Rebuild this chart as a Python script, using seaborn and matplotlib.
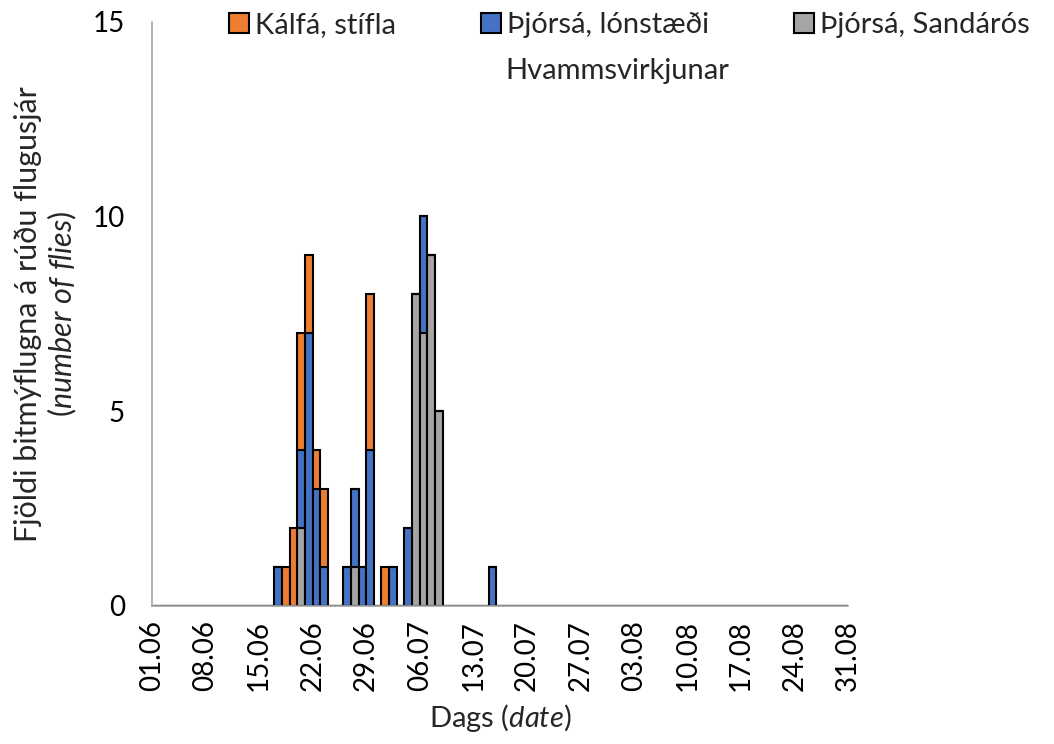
import pandas as pd
import numpy as np
import matplotlib
matplotlib.use("Agg")
import matplotlib.pyplot as plt
import seaborn as sns

# data (date -> number of flies)
kalfa_dates = ["18.06", "19.06", "20.06", "21.06", "22.06", "23.06", "29.06", "01.07"]
kalfa_counts = [1, 2, 3, 2, 1, 2, 4, 1]

lon_dates = ["17.06", "20.06", "21.06", "22.06", "23.06", "26.06", "27.06", "28.06",
             "29.06", "02.07", "04.07", "06.07", "15.07"]
lon_counts = [1, 2, 7, 3, 1, 1, 2, 1, 4, 1, 2, 3, 1]

sand_dates = ["20.06", "27.06", "05.07", "06.07", "07.07", "08.07"]
sand_counts = [2, 1, 8, 7, 9, 5]

site_names = ["Kálfá, stífla", "Þjórsá, lónstæði", "Þjórsá, Sandárós"]
site_colors = ["#ED7D31", "#4472C4", "#A5A5A5"]
tick_labels = ["01.06", "08.06", "15.06", "22.06", "29.06", "06.07", "13.07",
               "20.07", "27.07", "03.08", "10.08", "17.08", "24.08", "31.08"]

start = pd.Timestamp("2020-06-01")


def day_index(dates):
    d = pd.to_datetime([s + ".2020" for s in dates], format="%d.%m.%Y")
    return np.asarray((d - start).days)


frames = []
for name, dates, counts in zip(site_names,
                               [kalfa_dates, lon_dates, sand_dates],
                               [kalfa_counts, lon_counts, sand_counts]):
    frames.append(pd.DataFrame({"day": day_index(dates), "n": counts, "site": name}))
df = pd.concat(frames, ignore_index=True)

sns.set_style("white")
plt.rcParams["font.family"] = ["Lato", "DejaVu Sans"]
plt.rcParams["mathtext.fontset"] = "custom"
plt.rcParams["mathtext.rm"] = "Lato"
plt.rcParams["mathtext.it"] = "Lato:italic"

fig = plt.figure(figsize=(10.54, 7.44), dpi=100)
ax = fig.add_axes([0.1442, 0.1859, 0.6604, 0.7849])

sns.histplot(data=df, x="day", weights="n", hue="site", hue_order=site_names,
             palette=site_colors, multiple="stack", binwidth=1, binrange=(0, 91),
             alpha=1, edgecolor="black", linewidth=1.5, ax=ax)

ax.set_xlim(0, 91)
ax.set_ylim(0, 15)
ax.set_yticks([0, 5, 10, 15])
ax.set_xticks(day_index(tick_labels))
ax.set_xticklabels(tick_labels, rotation=90)

grey = "#A6A6A6"
for side in ["top", "right"]:
    ax.spines[side].set_visible(False)
for side in ["left", "bottom"]:
    ax.spines[side].set_color(grey)
    ax.spines[side].set_linewidth(1.2)
ax.tick_params(axis="both", direction="out", length=7.5, width=1.2, color=grey,
               labelsize=20, labelcolor="black")
ax.tick_params(axis="x", pad=3)
ax.tick_params(axis="y", pad=12)

ax.set_xlabel("Dags ($\\mathit{date}$)", fontsize=21, labelpad=8)
ax.set_ylabel("Fjöldi bitmýflugna á rúðu flugusjár\n($\\mathit{number\\ of\\ flies}$)",
              fontsize=22, labelpad=10, linespacing=1.15)

sns.move_legend(ax, "upper left", bbox_to_anchor=(229 / 1054, 0.984),
                bbox_transform=fig.transFigure, ncol=3, title=None, frameon=False,
                fontsize=21, handlelength=0.7, handleheight=0.7, handletextpad=0.2,
                columnspacing=2.9, borderaxespad=0, borderpad=0)

# second line of the blue legend entry
fig.text(505 / 1054, 1 - 71 / 744, "Hvammsvirkjunar", fontsize=21, va="center", ha="left")

fig.savefig("out.png", dpi=100)
